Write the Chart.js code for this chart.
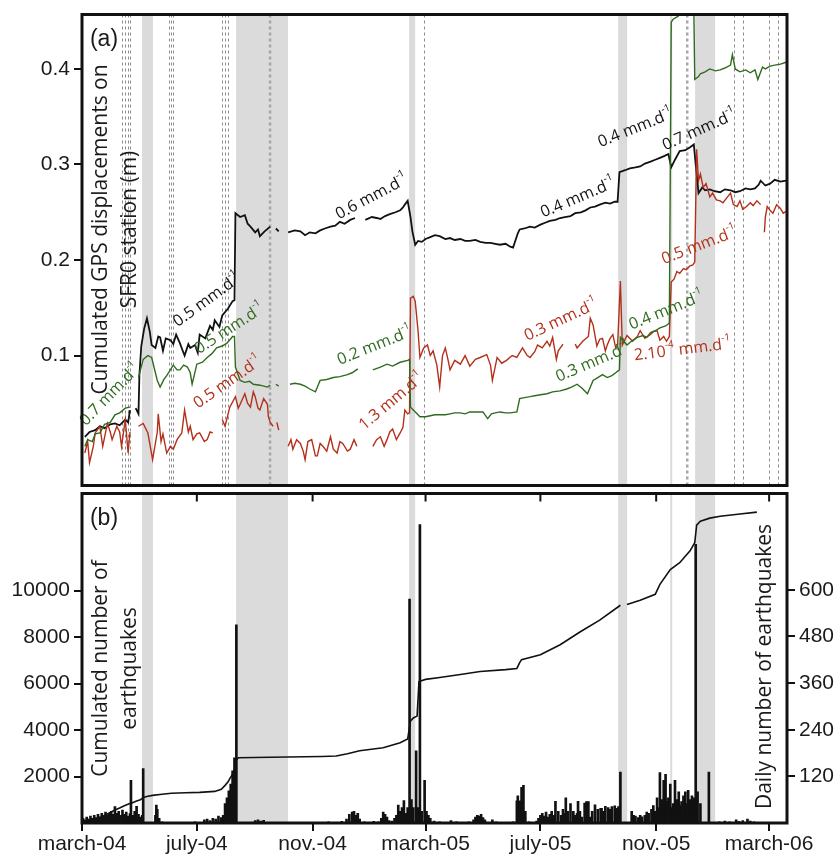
<!DOCTYPE html>
<html>
<head>
<meta charset="utf-8">
<script src="https://cdn.jsdelivr.net/npm/chart.js@4.4.1/dist/chart.umd.min.js"></script>
<style>
  html, body { margin: 0; padding: 0; background: #fff; }
  #wrap { position: relative; width: 840px; height: 859px; }
  #wrap canvas { position: absolute; left: 0; }
  #gps { top: 0; }
  #quakes { top: 479px; }
</style>
</head>
<body>
<div id="wrap">
  <canvas id="gps" width="840" height="500"></canvas>
  <canvas id="quakes" width="840" height="380"></canvas>
</div>
<script>
/* SFR0 GPS displacements (a) + seismicity (b); x = days since 1 march 2004 */
var tickDays   = [0, 122, 245, 365, 487, 610, 730];
var tickLabels = ['march-04', 'july-04', 'nov.-04', 'march-05', 'july-05', 'nov.-05', 'march-06'];
var gpsTicks   = [0.1, 0.2, 0.3, 0.4];
var cumTicks   = [2000, 4000, 6000, 8000, 10000];
var dayTicks   = [120, 240, 360, 480, 600];

// grey periods and dashed event lines (days)
var bands = [[63.8, 75.4], [163.7, 218.9], [347.5, 353.9], [569.6, 579.2], [624.9, 627], [651.4, 672.7]];
var thinDashes = [42.8, 45.7, 48.6, 51.3, 92.5, 94.6, 96.7, 148.8, 152, 155.2, 363.4, 692.9, 702.4, 730, 739.6];
var thickDashes = [199.8, 643];

// [day, metres]
var blackGps = [[3,0.015],[8,0.02],[14,0.022],[19,0.026],[24,0.024],[30,0.028],[35,0.029],[40,0.027],[46,0.033],[49,0.03],[51,0.043],[53,null],
  [57,0.045],[60,0.039],[61,0.08],[63,0.11],[66,0.128],[69,0.139],[72,0.125],[74,0.111],[78,0.108],[81,0.12],[83,0.119],[86,0.105],[89,0.118],
  [94,0.116],[97,0.112],[100,0.122],[104,0.113],[107,0.105],[109,0.1],[113,0.112],[115,0.108],[120,0.111],[123,0.103],[125,0.122],[131,0.118],
  [136,0.131],[139,0.127],[141,0.137],[146,0.13],[149,0.142],[155,0.149],[160,0.157],[162,0.158],[163,0.249],[168,0.245],[173,0.247],[176,0.238],
  [179,0.235],[184,0.229],[187,0.232],[189,0.225],[194,0.23],[200,0.235],[203,null],[206,0.233],[209,0.23],[212,null],[219,0.229],[226,0.231],
  [232,0.23],[237,0.226],[242,0.229],[248,0.228],[253,0.231],[258,0.233],[264,0.235],[269,0.236],[274,0.24],[279,0.238],[285,0.242],[290,0.244],
  [293,null],[301,0.242],[308,0.245],[313,0.244],[317,0.243],[322,0.246],[327,0.248],[333,0.25],[338,0.252],[341,0.255],[343,0.258],[346,0.262],
  [349,0.245],[351,0.23],[354,0.216],[357,0.22],[361,0.219],[365,0.222],[370,0.224],[375,0.226],[380,0.225],[386,0.222],[391,0.223],[396,0.221],
  [402,0.222],[407,0.22],[412,0.22],[418,0.221],[423,0.219],[429,0.218],[434,0.218],[439,0.217],[444,0.216],[450,0.217],[455,0.214],[458,0.213],
  [463,0.228],[465,0.232],[470,0.233],[476,0.235],[481,0.234],[487,0.237],[492,0.239],[497,0.241],[503,0.242],[508,0.244],[513,0.245],[519,0.246],
  [524,0.249],[530,0.25],[535,0.252],[540,0.255],[545,0.256],[550,0.258],[556,0.26],[561,0.259],[566,0.261],[569,0.261],[571,0.292],[577,0.294],
  [582,0.296],[588,0.297],[593,0.298],[598,0.301],[604,0.303],[609,0.305],[614,0.307],[619,0.309],[623,0.311],[626,0.297],[630,0.305],[635,0.314],
  [641,0.315],[646,0.318],[650,0.321],[652,0.3],[655,0.27],[659,0.276],[662,0.273],[667,0.274],[672,0.272],[678,0.271],[683,0.274],[689,0.273],
  [694,0.271],[699,0.272],[705,0.275],[710,0.274],[715,0.275],[719,0.279],[721,0.283],[726,0.278],[731,0.28],[736,0.284],[742,0.282],[748,0.283]];

var greenGps = [[3,0.005],[6,0.012],[11,0.01],[14,0.018],[19,0.019],[24,0.028],[30,0.03],[35,0.038],[40,0.04],[46,0.045],[51,0.046],[54,null],
  [60,0.077],[65,0.096],[70,0.1],[74,0.098],[80,0.074],[83,0.067],[87,0.075],[90,0.079],[97,0.09],[101,0.085],[104,0.085],[108,0.09],[112,0.088],
  [115,0.082],[117,0.07],[122,0.091],[128,0.093],[133,0.098],[138,0.102],[143,0.108],[149,0.11],[154,0.113],[160,0.12],[162,0.12],[163,0.088],
  [168,0.074],[173,0.072],[178,0.073],[182,0.07],[189,0.069],[197,0.067],[200,0.069],[203,null],[206,0.07],[209,0.068],[212,null],[221,0.07],
  [226,0.071],[232,0.07],[237,0.068],[242,0.065],[248,0.062],[253,0.074],[260,0.075],[267,0.077],[274,0.078],[282,0.08],[287,0.082],[293,0.086],
  [298,null],[309,0.085],[317,0.088],[324,0.091],[330,0.089],[338,0.093],[346,0.095],[348,0.096],[349,0.046],[356,0.039],[359,0.036],[365,0.036],
  [370,0.037],[375,0.038],[380,0.038],[386,0.038],[391,0.039],[396,0.04],[402,0.04],[407,0.039],[412,0.041],[420,0.041],[426,0.041],[431,0.034],
  [435,0.039],[439,0.04],[444,0.041],[450,0.04],[455,0.04],[462,0.041],[465,0.055],[470,0.056],[476,0.057],[481,0.058],[487,0.059],[494,0.06],
  [500,0.062],[508,0.063],[515,0.065],[520,0.067],[526,0.07],[531,0.066],[537,0.06],[543,0.074],[548,0.077],[553,0.08],[558,0.077],[563,0.079],
  [567,0.082],[571,0.085],[572,0.119],[579,0.111],[585,0.116],[590,0.119],[596,0.121],[600,0.119],[604,0.124],[609,0.126],[614,0.129],[620,0.131],
  [624,0.134],[626,0.449],[628,0.452],[633,0.455],[639,0.46],[646,0.465],[650,0.465],[651,0.389],[655,0.392],[657,0.395],[662,0.397],[667,0.4],
  [673,0.398],[678,0.399],[683,0.401],[689,0.404],[691,0.415],[694,0.4],[699,0.397],[705,0.399],[710,0.396],[715,0.399],[718,0.389],[723,0.402],
  [726,0.4],[731,0.403],[736,0.404],[742,0.405],[748,0.407]];

var redGps = [[3,-0.002],[6,0.01],[8,-0.012],[12,0.005],[14,0.019],[19,0.026],[22,0.005],[27,0.029],[30,0.02],[32,0.012],[37,0.026],[40,0.02],
  [42,0.005],[46,0.033],[49,-0.002],[51,0.02],[54,null],[60,0.026],[65,0.029],[70,0.019],[75,-0.009],[80,0.02],[81,0.039],[84,0.01],[86,0.018],
  [90,-0.002],[94,0.005],[97,0.002],[101,0.012],[106,0.019],[109,0.043],[113,0.02],[115,0.026],[118,0.012],[122,0.018],[125,0.019],[130,0.01],
  [133,0.012],[136,0.02],[139,0.019],[143,null],[149,0.033],[152,0.026],[157,0.046],[163,0.057],[166,0.045],[168,0.049],[173,0.06],[176,0.05],
  [179,0.046],[182,0.062],[184,0.057],[187,0.045],[189,0.043],[193,0.055],[197,0.049],[198,0.036],[200,0.03],[203,0.026],[205,null],[207,0.03],
  [209,0.022],[212,null],[219,0.005],[222,0.012],[224,0.002],[228,0.012],[232,0.008],[235,0.0],[237,-0.009],[240,0.01],[244,0.012],[248,-0.005],
  [250,-0.005],[253,0.008],[256,0.005],[260,0.0],[264,0.015],[267,0.002],[271,-0.002],[274,0.01],[277,0.008],[282,0.0],[285,0.002],[289,0.012],
  [292,0.005],[297,null],[309,0.005],[313,0.012],[317,0.015],[321,0.005],[324,0.012],[327,0.02],[330,0.023],[334,0.012],[338,0.019],[341,0.025],
  [343,0.043],[346,0.039],[348,0.04],[349,0.16],[352,0.162],[354,0.157],[357,0.126],[359,0.098],[363,0.108],[367,0.111],[370,0.1],[373,0.105],
  [377,0.09],[380,0.067],[383,0.1],[386,0.108],[389,0.095],[391,0.085],[396,0.095],[402,0.091],[407,0.1],[412,0.089],[418,0.096],[423,0.098],
  [430,0.101],[434,0.09],[436,0.074],[441,0.098],[446,0.092],[451,0.095],[457,0.1],[462,0.098],[468,0.108],[473,0.1],[476,0.098],[481,0.104],
  [484,0.111],[489,0.108],[494,0.115],[497,0.11],[500,0.119],[504,0.096],[506,0.105],[511,0.112],[515,null],[524,0.112],[526,0.108],[532,0.115],
  [538,0.12],[540,0.139],[543,0.132],[547,0.11],[550,0.117],[553,0.118],[556,0.105],[558,0.111],[561,0.118],[564,0.122],[567,0.108],[569,0.11],
  [572,0.178],[574,0.111],[579,0.121],[585,0.115],[590,0.12],[593,0.126],[598,0.118],[604,0.122],[607,0.125],[611,0.126],[614,0.116],[618,0.12],
  [621,0.115],[624,0.12],[626,0.177],[629,0.18],[632,0.188],[635,0.186],[639,0.191],[642,0.19],[646,0.194],[649,0.195],[651,0.198],[653,0.316],
  [655,0.283],[657,0.29],[660,0.276],[663,0.28],[667,0.266],[670,0.27],[674,0.263],[678,0.262],[681,0.26],[685,0.265],[689,0.27],[692,0.258],
  [696,0.256],[699,0.262],[702,0.253],[706,0.256],[710,0.26],[713,0.257],[717,0.262],[721,0.258],[724,null],[725,0.229],[726,0.245],[728,0.256],
  [731,0.252],[734,0.249],[738,0.258],[742,0.254],[745,0.249],[748,0.251]];

// [day, cumulated earthquakes]
var cumQuakes = [[0,0],[10,100],[20,250],[30,450],[35,560],[40,650],[45,740],[50,830],[53,860],[58,950],[62,1000],[65,1100],[70,1150],[75,1190],
  [85,1240],[95,1280],[110,1300],[125,1320],[141,1360],[148,1450],[152,1620],[155,1760],[157,1910],[160,2100],[162,2300],[164,2700],[166,2810],
  [200,2830],[255,2860],[270,2880],[282,2980],[295,3110],[320,3240],[338,3450],[346,3620],[349,4390],[352,4520],[356,4600],[358,6090],[365,6180],
  [380,6260],[402,6390],[423,6520],[450,6600],[462,6650],[465,6900],[467,7030],[487,7240],[508,7670],[529,8220],[550,8730],[572,9370],[575,null],
  [579,9400],[593,9590],[609,9840],[614,10270],[625,10910],[635,11200],[646,11710],[651,12060],[653,12820],[657,12990],[667,13120],[678,13200],
  [699,13300],[717,13380]];

// [day, daily earthquakes]
var dailyQuakes = [[1,12],[3,8],[5,15],[7,10],[9,18],[11,12],[13,20],[15,14],[17,22],[19,16],[21,25],[23,18],[25,28],[27,20],[29,24],[31,30],
  [33,22],[35,42],[37,25],[39,30],[41,20],[43,33],[45,22],[47,28],[49,18],[51,24],[52,110],[54,20],[56,30],[58,43],[60,22],[62,15],[64,20],[65,140],
  [78,20],[79,46],[80,35],[82,12],[85,3],[90,2],[100,2],[110,2],[120,3],[130,8],[133,10],[136,6],[139,12],[142,10],[145,18],[148,14],[150,20],
  [152,50],[154,65],[156,83],[158,100],[160,134],[162,168],[164,510],[184,6],[187,8],[190,5],[193,7],[255,2],[262,3],[270,2],[276,4],[281,10],
  [284,22],[287,28],[289,30],[291,20],[293,25],[295,10],[300,3],[305,2],[310,4],[315,3],[318,12],[320,28],[322,22],[324,15],[326,6],[329,5],
  [332,12],[334,20],[336,46],[338,30],[340,40],[342,58],[344,25],[346,40],[348,576],[350,60],[352,40],[355,186],[357,40],[359,768],[361,30],
  [364,110],[366,30],[368,20],[370,12],[374,5],[380,3],[386,2],[392,6],[398,3],[405,2],[411,3],[416,8],[418,15],[420,20],[422,18],[424,22],
  [426,14],[428,8],[436,8],[440,3],[450,2],[458,3],[462,57],[463,70],[465,57],[467,92],[469,97],[471,30],[475,3],[480,2],[483,5],[485,12],
  [487,20],[489,25],[491,18],[493,28],[495,15],[497,22],[499,30],[501,20],[503,56],[506,30],[509,20],[511,35],[513,25],[514,65],[516,30],
  [519,50],[522,30],[524,20],[526,25],[527,56],[529,30],[531,15],[534,51],[536,55],[538,55],[540,15],[542,30],[545,47],[548,35],[551,38],
  [552,38],[554,30],[556,43],[559,40],[561,35],[563,42],[566,44],[568,38],[570,42],[572,131],[584,30],[586,20],[588,18],[591,14],[593,20],
  [595,16],[598,20],[600,28],[602,25],[605,35],[607,45],[609,30],[611,65],[613,40],[614,130],[616,60],[618,110],[620,125],[621,55],[623,65],
  [625,100],[627,40],[628,50],[630,110],[632,60],[634,80],[636,45],[637,55],[639,70],[641,80],[643,50],[644,84],[646,60],[648,70],[650,65],
  [652,717],[654,80],[657,50],[666,131],[672,2],[677,3],[683,5],[688,3],[695,8],[698,4],[702,6],[707,10],[710,5],[714,3],[718,2]];

// rate labels: [text, day, metres, angle, series]
var notes = [
  ['0.7 mm.d^{-1}', 30, 0.059, -46, 'green'],
  ['0.5 mm.d^{-1}', 133, 0.158, -36, 'black'],
  ['0.5 mm.d^{-1}', 157, 0.128, -33, 'green'],
  ['0.5 mm.d^{-1}', 155, 0.072, -35, 'red'],
  ['0.6 mm.d^{-1}', 308, 0.266, -28, 'black'],
  ['0.2 mm.d^{-1}', 311, 0.110, -22, 'green'],
  ['1.3 mm.d^{-1}', 329, 0.052, -40, 'red'],
  ['0.4 mm.d^{-1}', 527, 0.265, -23, 'black'],
  ['0.4 mm.d^{-1}', 588, 0.338, -22, 'black'],
  ['0.7 mm.d^{-1}', 656, 0.336, -24, 'black'],
  ['0.3 mm.d^{-1}', 509, 0.137, -25, 'red'],
  ['0.4 mm.d^{-1}', 621, 0.147, -22, 'green'],
  ['0.3 mm.d^{-1}', 543, 0.093, -23, 'green'],
  ['2.10^{-4} mm.d^{-1}', 638, 0.106, -7, 'red'],
  ['0.5 mm.d^{-1}', 656, 0.215, -21, 'red']
];

var colors = { black: '#111111', green: '#2f6b1e', red: '#b3301a' };
var ink = '#1a1a1a';
var tickFont = { family: '"Liberation Sans", Arial, sans-serif', size: 21, lineHeight: 1 };

function pts(list) {
  return list.map(function(p) { return { x: p[0], y: p[1] }; });
}

function drawRich(ctx, str, size) {
  var parts = str.split(/\^\{([^}]*)\}/), widths = [], total = 0;
  parts.forEach(function(p, i) {
    ctx.font = (i % 2 ? Math.round(size * 0.62) : size) + 'px "Open Sans"';
    widths.push(ctx.measureText(p).width);
    total += widths[i];
  });
  var cx = -total / 2;
  parts.forEach(function(p, i) {
    ctx.font = (i % 2 ? Math.round(size * 0.62) : size) + 'px "Open Sans"';
    ctx.fillText(p, cx, i % 2 ? -size * 0.42 : 0);
    cx += widths[i];
  });
}

var decor = {
  id: 'decor',
  beforeDatasetsDraw: function(chart, args, o) {
    var ctx = chart.ctx, a = chart.chartArea, x = chart.scales.x;
    ctx.save();
    ctx.beginPath();
    ctx.rect(a.left, a.top, a.right - a.left, a.bottom - a.top);
    ctx.clip();
    ctx.fillStyle = '#dbdbdb';
    bands.forEach(function(b) {
      var x0 = x.getPixelForValue(b[0]), x1 = x.getPixelForValue(b[1]);
      ctx.fillRect(x0, a.top, Math.max(x1 - x0, 2), a.bottom - a.top);
    });
    if (o.dashes) {
      ctx.strokeStyle = '#8c8c8c';
      ctx.lineWidth = 1;
      ctx.setLineDash([3, 3]);
      thinDashes.forEach(function(d) {
        var px = Math.round(x.getPixelForValue(d)) + 0.5;
        ctx.beginPath(); ctx.moveTo(px, a.top); ctx.lineTo(px, a.bottom); ctx.stroke();
      });
      ctx.strokeStyle = '#a6a6a6';
      ctx.lineWidth = 2.5;
      thickDashes.forEach(function(d) {
        var px = x.getPixelForValue(d);
        ctx.beginPath(); ctx.moveTo(px, a.top); ctx.lineTo(px, a.bottom); ctx.stroke();
      });
    }
    ctx.restore();
  },
  afterDatasetsDraw: function(chart, args, o) {
    var ctx = chart.ctx, a = chart.chartArea;
    ctx.save();
    ctx.fillStyle = ink;
    ctx.textBaseline = 'middle';
    ctx.textAlign = 'center';
    ctx.font = '23px "Liberation Sans", Arial, sans-serif';
    ctx.fillText(o.panel, a.left + 22, a.top + 25);
    ctx.font = '21px "Open Sans"';
    (o.titles || []).forEach(function(t) {
      ctx.save();
      ctx.translate(t[1] < 0 ? a.right + t[1] : a.left + t[1], a.top + t[2]);
      ctx.rotate(-Math.PI / 2);
      ctx.fillText(t[0], 0, 0);
      ctx.restore();
    });
    if (o.notes) {
      var x = chart.scales.x, y = chart.scales.y;
      ctx.textAlign = 'left';
      notes.forEach(function(n) {
        ctx.save();
        ctx.fillStyle = colors[n[4]];
        ctx.translate(x.getPixelForValue(n[1]), y.getPixelForValue(n[2]));
        ctx.rotate(n[3] * Math.PI / 180);
        drawRich(ctx, n[0], 16);
        ctx.restore();
      });
    }
    ctx.restore();
  },
  afterDraw: function(chart, args, o) {
    var ctx = chart.ctx, a = chart.chartArea, x = chart.scales.x;
    ctx.save();
    ctx.strokeStyle = '#111';
    if (o.topTicks) {
      ctx.lineWidth = 2;
      tickDays.forEach(function(d) {
        var px = x.getPixelForValue(d);
        ctx.beginPath(); ctx.moveTo(px, a.top); ctx.lineTo(px, a.top + 8); ctx.stroke();
      });
    }
    ctx.lineWidth = 3;
    ctx.strokeRect(a.left, a.top, a.right - a.left, a.bottom - a.top);
    ctx.restore();
  }
};

function fixTicks(values) {
  return function(scale) { scale.ticks = values.map(function(v) { return { value: v }; }); };
}

var tickGrid = { drawOnChartArea: false, drawTicks: true, tickLength: 8, color: '#111', lineWidth: 2, offset: false };

new Chart(document.getElementById('gps'), {
  type: 'line',
  data: {
    datasets: [
      { data: pts(greenGps), borderColor: colors.green, borderWidth: 1.4 },
      { data: pts(redGps), borderColor: colors.red, borderWidth: 1.4 },
      { data: pts(blackGps), borderColor: colors.black, borderWidth: 1.8 }
    ]
  },
  options: {
    responsive: false,
    animation: false,
    events: [],
    layout: { padding: { top: 12, right: 53, bottom: 10, left: 0 } },
    elements: { point: { radius: 0 }, line: { tension: 0 } },
    scales: {
      x: { type: 'linear', min: 0, max: 749, display: false },
      y: {
        min: -0.036, max: 0.457,
        afterFit: function(s) { s.width = 82; },
        afterBuildTicks: fixTicks(gpsTicks),
        border: { display: false },
        grid: tickGrid,
        ticks: { font: tickFont, color: ink, padding: 4, callback: function(v) { return v.toFixed(1); } }
      }
    },
    plugins: {
      legend: { display: false },
      tooltip: { enabled: false },
      decor: {
        panel: '(a)', dashes: true, notes: true,
        titles: [['Cumulated GPS displacements on', 19, 215], ['SFR0 station (m)', 48, 215]]
      }
    }
  },
  plugins: [decor]
});

new Chart(document.getElementById('quakes'), {
  type: 'line',
  data: {
    datasets: [
      { data: pts(cumQuakes), yAxisID: 'y', borderColor: '#111', borderWidth: 1.6, order: 1 },
      { type: 'bar', data: pts(dailyQuakes), yAxisID: 'yDay', backgroundColor: '#111', barThickness: 2, order: 2 }
    ]
  },
  options: {
    responsive: false,
    animation: false,
    events: [],
    layout: { padding: { top: 11, right: 0, bottom: 0, left: 0 } },
    elements: { point: { radius: 0 }, line: { tension: 0 } },
    scales: {
      x: {
        type: 'linear', min: 0, max: 749, offset: false,
        afterFit: function(s) { s.height = 36; },
        afterBuildTicks: fixTicks(tickDays),
        border: { display: false },
        grid: tickGrid,
        ticks: { font: tickFont, color: ink, padding: 3, maxRotation: 0, autoSkip: false,
                 callback: function(v, i) { return tickLabels[i]; } }
      },
      y: {
        position: 'left', min: 0, max: 14180,
        afterFit: function(s) { s.width = 82; },
        afterBuildTicks: fixTicks(cumTicks),
        border: { display: false },
        grid: tickGrid,
        ticks: { font: tickFont, color: ink, padding: 4, callback: function(v) { return String(v); } }
      },
      yDay: {
        position: 'right', min: 0, max: 848,
        afterFit: function(s) { s.width = 53; },
        afterBuildTicks: fixTicks(dayTicks),
        border: { display: false },
        grid: tickGrid,
        ticks: { font: tickFont, color: ink, padding: 4, callback: function(v) { return String(v); } }
      }
    },
    plugins: {
      legend: { display: false },
      tooltip: { enabled: false },
      decor: {
        panel: '(b)', topTicks: true,
        titles: [['Cumulated number of', 19, 175], ['earthquakes', 48, 175], ['Daily number of earthquakes', -22, 173]]
      }
    }
  },
  plugins: [decor]
});
</script>
</body>
</html>
